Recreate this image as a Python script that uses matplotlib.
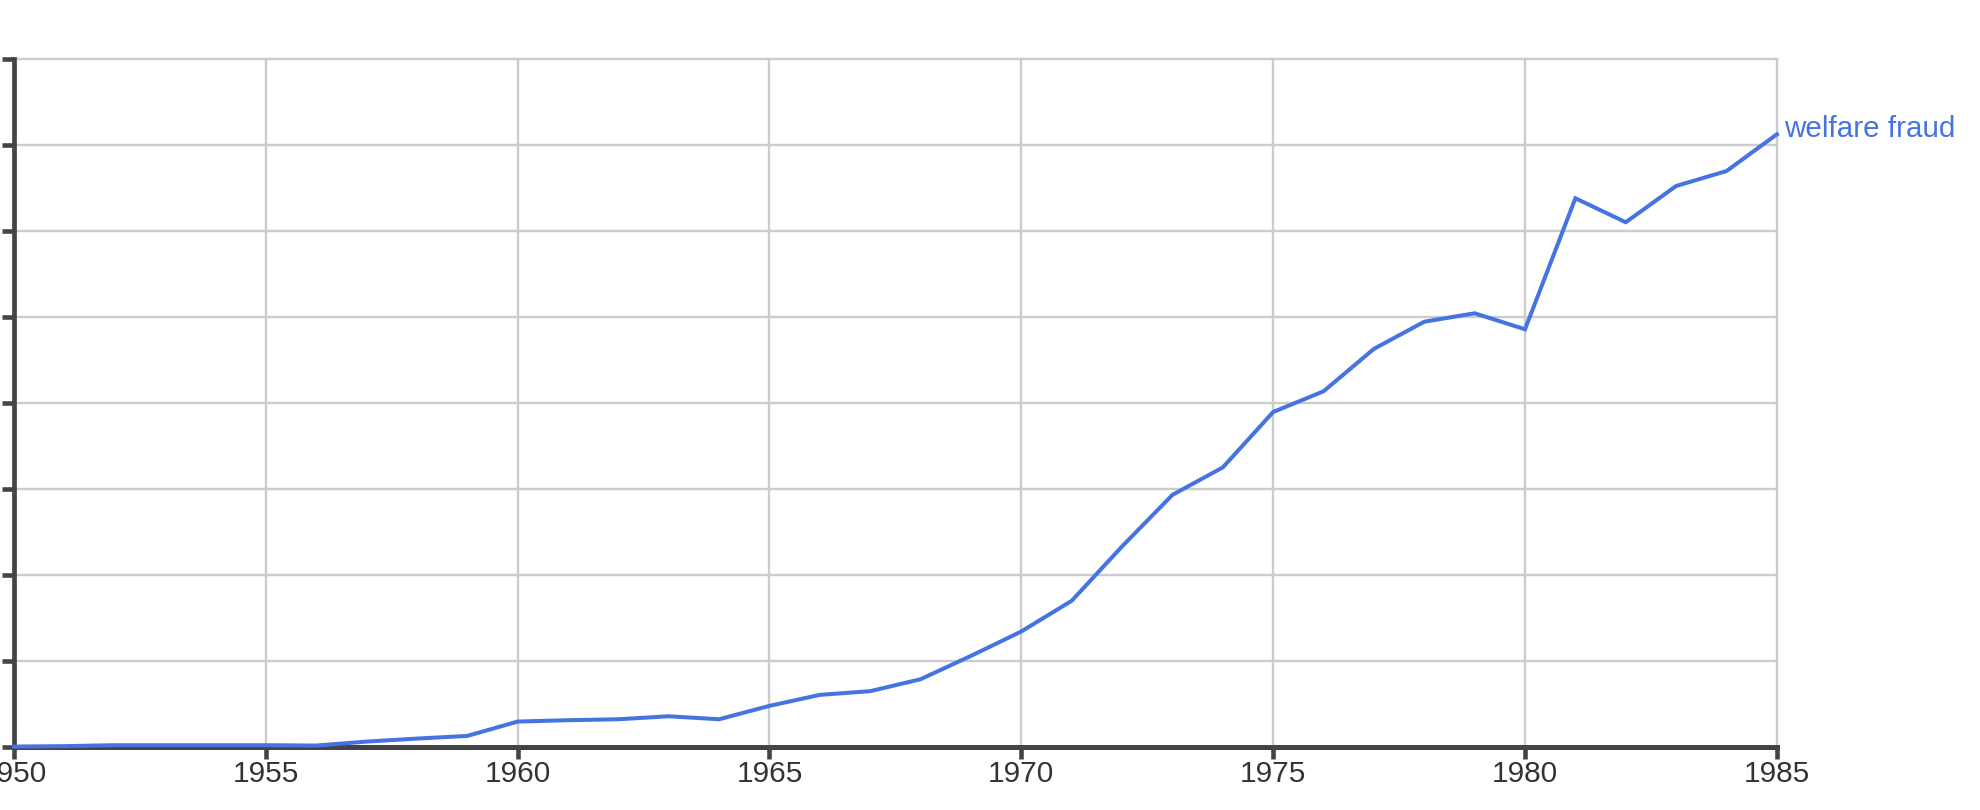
import matplotlib
matplotlib.use('Agg')
import matplotlib.pyplot as plt

plt.rcParams['font.family'] = ['Liberation Sans', 'DejaVu Sans']

# data (y in gridline units)
years = list(range(1950, 1986))
values = [0.0, 0.005, 0.016, 0.016, 0.016, 0.016, 0.012, 0.058, 0.093, 0.124,
          0.291, 0.307, 0.318, 0.353, 0.318, 0.474, 0.602, 0.645, 0.784, 1.056,
          1.34, 1.697, 2.33, 2.93, 3.25, 3.895, 4.136, 4.63, 4.946, 5.044,
          4.858, 6.383, 6.104, 6.526, 6.70, 7.128]
series_name = 'welfare fraud'
x_ticks = [1950, 1955, 1960, 1965, 1970, 1975, 1980, 1985]
y_ticks = [0, 1, 2, 3, 4, 5, 6, 7, 8]

line_color = '#4574e2'
axis_color = '#444444'

fig = plt.figure(figsize=(19.8, 8.1), dpi=100)
fig.set_facecolor('white')
ax = fig.add_axes([0.00702, 0.0783, 0.8904, 0.8484])

ax.plot(years, values, color=line_color, linewidth=2.9, zorder=3,
        clip_on=False, solid_joinstyle='miter')

ax.set_xlim(1950, 1985)
ax.set_ylim(0, 8)
ax.set_xticks(x_ticks)
ax.set_yticks(y_ticks)
ax.set_yticklabels([])
ax.grid(True, color='#cccccc', linewidth=1.7, zorder=0)
ax.set_axisbelow(True)
for gl in ax.get_xgridlines() + ax.get_ygridlines():
    gl.set_clip_on(False)

for side in ['top', 'right']:
    ax.spines[side].set_visible(False)
ax.spines['left'].set_color(axis_color)
ax.spines['left'].set_linewidth(3.4)
ax.spines['bottom'].set_color(axis_color)
ax.spines['bottom'].set_linewidth(3.6)

ax.tick_params(axis='both', direction='out', length=8.5, width=3.3,
               color=axis_color, labelcolor='#333333', labelsize=21.5, pad=1)

# series label at the end of the line
ax.annotate(series_name, xy=(years[-1], values[-1]), xytext=(5, -1.7),
            textcoords='offset points', color=line_color, fontsize=21.3,
            va='baseline', ha='left', annotation_clip=False)

fig.savefig('out.png', dpi=100, facecolor='white')
